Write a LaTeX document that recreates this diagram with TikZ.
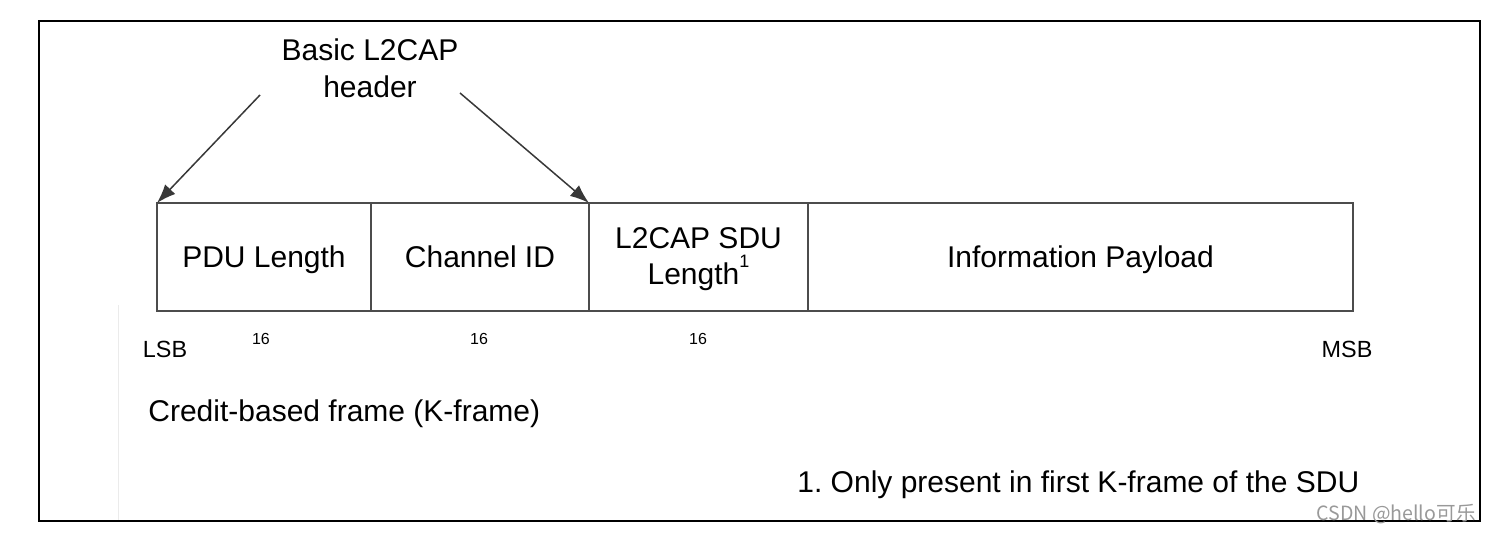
\documentclass[tikz,border=0pt]{standalone}
\usepackage{fontspec}
\setmainfont{Liberation Sans}
\newfontfamily\cjkfont{Noto Sans CJK SC}
\usepackage{tikz}
\usetikzlibrary{positioning, arrows.meta}
\frenchspacing
\newcommand{\fstrut}{\rule[-3.4pt]{0pt}{17.4pt}}

\begin{document}
\begin{tikzpicture}[x=0.5pt, y=-0.5pt,
    field/.style={draw=black!70, line width=0.7pt, minimum height=54pt, inner sep=0pt, outer sep=0pt, align=center, font=\fontsize{15}{18}\selectfont},
    big/.style={font=\fontsize{15}{18.5}\selectfont, inner sep=0pt, align=center},
    small/.style={font=\fontsize{8}{9}\selectfont, inner sep=0pt}]
    \useasboundingbox (0,0) rectangle (1490,533);
    \draw[line width=1pt] (39,21) rectangle (1480,521);
    \draw[black!8, line width=0.5pt] (118,305) -- (118,520);
    % the frame fields
    \node[field, minimum width=107pt, anchor=north west] (pdu) at (157,203) {PDU Length\fstrut};
    \node[field, minimum width=109pt, right=0pt of pdu] (cid) {Channel ID\fstrut};
    \node[field, minimum width=109.5pt, right=0pt of cid] (sdu) {L2CAP SDU\rule{0pt}{13.1pt}\\Length\raisebox{1.1ex}{\fontsize{9}{9}\selectfont 1}\rule[-3.4pt]{0pt}{3.4pt}};
    \node[field, minimum width=272.5pt, right=0pt of sdu] (info) {Information Payload\fstrut};
    % header label and its arrows
    \node[big] (hdr) at (370,68) {Basic L2CAP\\header};
    \coordinate (hl) at (260,95);
    \coordinate (hr) at (460,93);
    \draw[black!78, line width=0.75pt, -{Latex[length=9.5pt,width=7pt]}] (hl) -- (pdu.north west);
    \draw[black!78, line width=0.75pt, -{Latex[length=9.5pt,width=7pt]}] (hr) -- (sdu.north west);
    % sizes
    \node[small] (s1) at (261,339) {16};
    \node[small] (s2) at (479,339) {16};
    \node[small] (s3) at (698,339) {16};
    \node[font=\fontsize{11.7}{13}\selectfont, inner sep=0pt] (lsb) at (165,349) {LSB};
    \node[font=\fontsize{11.7}{13}\selectfont, inner sep=0pt] (msb) at (1347,349) {MSB};
    \node[big, anchor=west] (cap) at (148,414) {Credit-based frame (K-frame)};
    \node[big, anchor=west] (note) at (797,485) {1. Only present in first K-frame of the SDU};
    \node[font=\cjkfont\fontsize{9.8}{11}\selectfont, text=black!40, inner sep=0pt, anchor=east] (wm) at (1476,514) {CSDN @hello可乐};
\end{tikzpicture}
\end{document}
